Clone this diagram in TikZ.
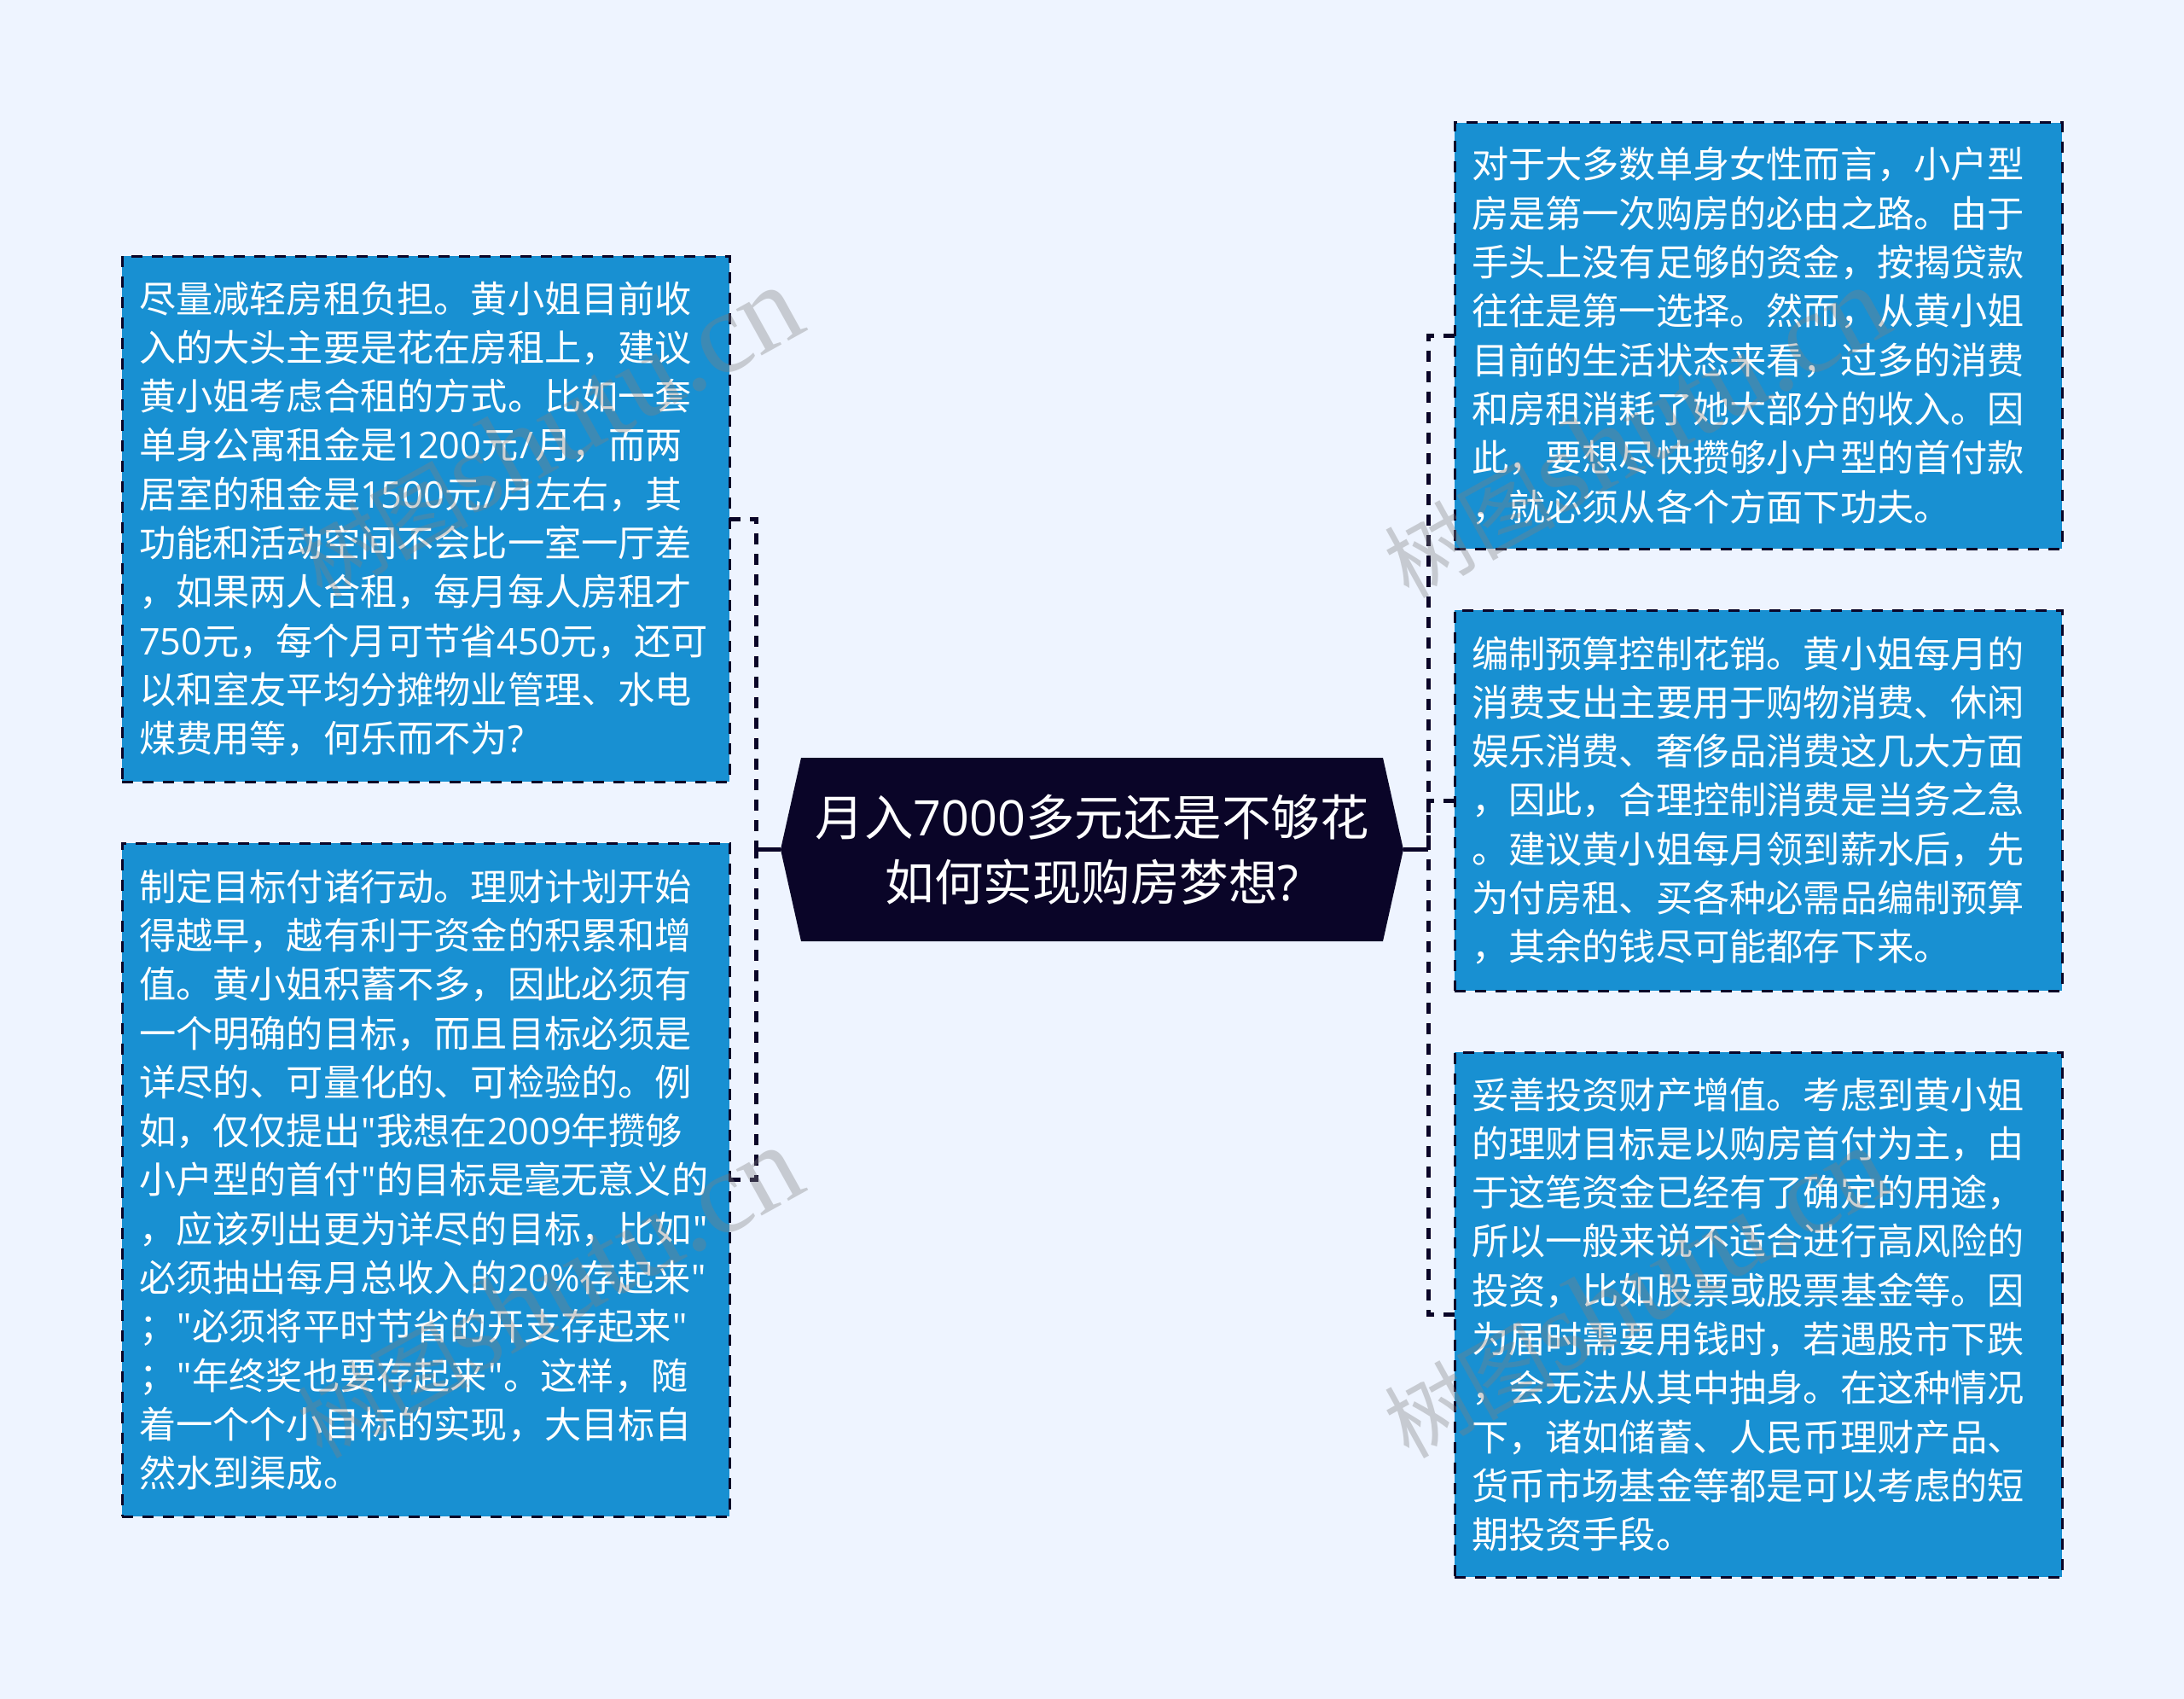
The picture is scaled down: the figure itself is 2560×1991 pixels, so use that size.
\documentclass[tikz,border=0pt]{standalone}
\usepackage{fontspec}
\newfontfamily\cnfont{Noto Sans CJK SC}
\newfontfamily\ltnfont{Open Sans}
\newfontfamily\wmlatin{Liberation Serif}
\usetikzlibrary{backgrounds,calc}
\definecolor{pagebg}{HTML}{EEF4FF}
\definecolor{boxblue}{HTML}{1890D2}
\definecolor{inkdark}{HTML}{0A0528}
\definecolor{wmgray}{HTML}{808080}
\newcommand{\ltn}[1]{{\ltnfont #1}}
\newcommand{\qt}{\kern1pt{\ltnfont"}\kern1pt}
\newcommand{\slsh}{\kern2pt{\ltnfont/}\kern2pt}
\tikzset{
  topicbox/.style={rectangle,fill=boxblue,draw=inkdark,line width=3pt,dash pattern=on 13pt off 11pt,
    outer sep=0pt,inner xsep=20pt,inner ysep=0pt,text width=672pt,minimum width=712pt,align=left,
    text=white,font=\cnfont\fontsize{43.2}{57.3}\selectfont},
  hublabel/.style={rectangle,outer sep=0pt,inner sep=0pt,minimum width=730pt,minimum height=215pt,
    align=center,text=white,font=\cnfont\fontsize{57.5}{75.5}\selectfont},
  hubfill/.style={fill=inkdark},
  link/.style={draw=inkdark,line width=5pt,dash pattern=on 13pt off 11pt},
  stub/.style={draw=inkdark,line width=5pt},
  wmark/.style={text=wmgray,opacity=0.36,rotate=29,inner sep=0pt,anchor=center},
}
\newcommand{\wmtext}{{\cnfont\fontsize{100}{100}\selectfont 树图}{\wmlatin\fontsize{135}{135}\selectfont shutu.cn}}
\begin{document}
\begin{tikzpicture}[x=1pt,y=-1pt]
\useasboundingbox (0,0) rectangle (2560,1991);

\coordinate (busL) at (886,995.5);
\coordinate (busR) at (1674,995.5);

\node[hublabel] (hub) at (1280,995.5) {月入\ltn{7000}多元还是不够花\\如何实现购房梦想\ltn{?}};
\begin{scope}[on background layer]
\fill[pagebg] (0,0) rectangle (2560,1991);
\fill[hubfill] (hub.west) -- ($(hub.north west)+(24,0)$) -- ($(hub.north east)+(-24,0)$)
  -- (hub.east) -- ($(hub.south east)+(-24,0)$) -- ($(hub.south west)+(24,0)$) -- cycle;
\end{scope}

\node[topicbox,minimum height=616pt] (L1) at (499,608) {尽量减轻房租负担。黄小姐目前收\\
入的大头主要是花在房租上，建议\\
黄小姐考虑合租的方式。比如一套\\
单身公寓租金是\ltn{1200}元\slsh 月，而两\\
居室的租金是\ltn{1500}元\slsh 月左右，其\\
功能和活动空间不会比一室一厅差\\
，如果两人合租，每月每人房租才\\
\ltn{750}元，每个月可节省\ltn{450}元，还可\\
以和室友平均分摊物业管理、水电\\
煤费用等，何乐而不为\ltn{?}};

\node[topicbox,minimum height=789pt] (L2) at (499,1382.5) {制定目标付诸行动。理财计划开始\\
得越早，越有利于资金的积累和增\\
值。黄小姐积蓄不多，因此必须有\\
一个明确的目标，而且目标必须是\\
详尽的、可量化的、可检验的。例\\
如，仅仅提出\qt 我想在\ltn{2009}年攒够\\
小户型的首付\qt 的目标是毫无意义的\\
，应该列出更为详尽的目标，比如\qt\\
必须抽出每月总收入的\ltn{20\%}存起来\qt\\
；\qt 必须将平时节省的开支存起来\qt\\
；\qt 年终奖也要存起来\qt 。这样，随\\
着一个个小目标的实现，大目标自\\
然水到渠成。};

\node[topicbox,minimum height=499pt] (R1) at (2061,393.5) {对于大多数单身女性而言，小户型\\
房是第一次购房的必由之路。由于\\
手头上没有足够的资金，按揭贷款\\
往往是第一选择。然而，从黄小姐\\
目前的生活状态来看，过多的消费\\
和房租消耗了她大部分的收入。因\\
此，要想尽快攒够小户型的首付款\\
，就必须从各个方面下功夫。};

\node[topicbox,minimum height=446pt] (R2) at (2061,938) {编制预算控制花销。黄小姐每月的\\
消费支出主要用于购物消费、休闲\\
娱乐消费、奢侈品消费这几大方面\\
，因此，合理控制消费是当务之急\\
。建议黄小姐每月领到薪水后，先\\
为付房租、买各种必需品编制预算\\
，其余的钱尽可能都存下来。};

\node[topicbox,minimum height=615pt] (R3) at (2061,1540.5) {妥善投资财产增值。考虑到黄小姐\\
的理财目标是以购房首付为主，由\\
于这笔资金已经有了确定的用途，\\
所以一般来说不适合进行高风险的\\
投资，比如股票或股票基金等。因\\
为届时需要用钱时，若遇股市下跌\\
，会无法从其中抽身。在这种情况\\
下，诸如储蓄、人民币理财产品、\\
货币市场基金等都是可以考虑的短\\
期投资手段。};

\draw[stub] (hub.west) -- (busL);
\draw[stub] (hub.east) -- (busR);
\draw[link] (L1.east) -| (busL);
\draw[link] (L2.east) -| (busL);
\draw[link] (R1.west) -| (busR);
\draw[link] (R2.west) -| (busR);
\draw[link] (R3.west) -| (busR);

\node[wmark] (wm1) at (643,507) {\wmtext};
\node[wmark] (wm2) at (643,1515) {\wmtext};
\node[wmark] (wm3) at (1917,507) {\wmtext};
\node[wmark] (wm4) at (1917,1515) {\wmtext};
\end{tikzpicture}
\end{document}
